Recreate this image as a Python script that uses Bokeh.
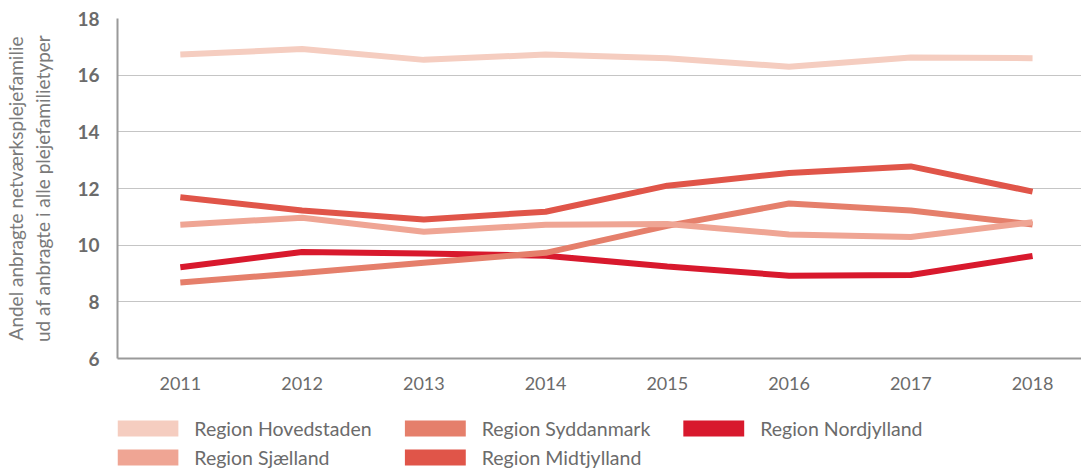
from bokeh.plotting import figure
from bokeh.layouts import column
from bokeh.models import Range1d, FixedTicker, ColumnDataSource
from bokeh.core.properties import value
from bokeh.embed import file_html
from bokeh.resources import INLINE

years = [2011, 2012, 2013, 2014, 2015, 2016, 2017, 2018]
year_labels = ["2011", "2012", "2013", "2014", "2015", "2016", "2017", "2018"]
y_ticks = [6, 8, 10, 12, 14, 16, 18]

hovedstaden = [16.73, 16.92, 16.54, 16.73, 16.60, 16.30, 16.62, 16.60]
sjaelland = [10.72, 10.97, 10.47, 10.72, 10.75, 10.38, 10.29, 10.81]
syddanmark = [8.68, 9.02, 9.38, 9.73, 10.68, 11.47, 11.22, 10.73]
midtjylland = [11.69, 11.22, 10.91, 11.18, 12.10, 12.55, 12.78, 11.89]
nordjylland = [9.22, 9.76, 9.71, 9.63, 9.25, 8.92, 8.95, 9.62]

names = ["Region Hovedstaden", "Region Sjælland", "Region Syddanmark",
         "Region Midtjylland", "Region Nordjylland"]
series = [hovedstaden, sjaelland, syddanmark, midtjylland, nordjylland]
colors = ["#F5CDC0", "#EFA594", "#E57F6B", "#E05549", "#D8192D"]

FONT = "Lato"
GREY = "#6b6b6b"
W = 1081
LEFT = 115

p = figure(width=W, height=402, output_backend="svg", toolbar_location=None,
           x_range=Range1d(2010.484, 2018.402), y_range=Range1d(6, 18),
           min_border_left=LEFT, min_border_right=0, min_border_top=18,
           min_border_bottom=44)
p.outline_line_color = None
p.background_fill_color = "white"
p.border_fill_color = "white"

for name, vals, col in reversed(list(zip(names, series, colors))):
    src = ColumnDataSource(dict(x=years, y=vals))
    p.line("x", "y", source=src, line_color=col, line_width=6)

# axes
p.xaxis.ticker = FixedTicker(ticks=years)
p.xaxis.major_label_overrides = {y: l for y, l in zip(years, year_labels)}
p.xaxis.major_tick_line_color = None
p.xaxis.minor_tick_line_color = None
p.xaxis.axis_line_color = "#9a9a9a"
p.xaxis.axis_line_width = 2
p.xaxis.major_label_text_font = FONT
p.xaxis.major_label_text_font_size = "18px"
p.xaxis.major_label_text_color = GREY
p.xaxis.major_label_standoff = 12

p.yaxis.ticker = FixedTicker(ticks=y_ticks)
p.yaxis.major_tick_line_color = None
p.yaxis.minor_tick_line_color = None
p.yaxis.axis_line_color = "#9a9a9a"
p.yaxis.axis_line_width = 2
p.yaxis.major_label_text_font = FONT
p.yaxis.major_label_text_font_style = "bold"
p.yaxis.major_label_text_font_size = "19px"
p.yaxis.major_label_text_color = GREY
p.yaxis.major_label_standoff = 12
p.yaxis.axis_label = "Andel anbragte netværksplejefamilie\nud af anbragte i alle plejefamilietyper"
p.yaxis.axis_label_text_font = FONT
p.yaxis.axis_label_text_font_style = "normal"
p.yaxis.axis_label_text_font_size = "19px"
p.yaxis.axis_label_text_color = "#7a7a7a"
p.yaxis.axis_label_standoff = 20

p.xgrid.grid_line_color = None
p.ygrid.ticker = FixedTicker(ticks=[8, 10, 12, 14, 16, 18])
p.ygrid.grid_line_color = "#8a8a8a"
p.ygrid.grid_line_dash = "1 1"
p.ygrid.grid_line_width = 1

# legend strip: frame aligned with the chart frame, coordinates in pixels
LH = 66
lg = figure(width=W, height=LH, output_backend="svg", toolbar_location=None,
            x_range=Range1d(0, W - LEFT), y_range=Range1d(LH, 0),
            min_border_left=LEFT, min_border_right=0, min_border_top=0,
            min_border_bottom=0, x_axis_type=None, y_axis_type=None)
lg.outline_line_color = None
lg.grid.grid_line_color = None
lg.background_fill_color = "white"
lg.border_fill_color = "white"

legend_order = ["Region Hovedstaden", "Region Syddanmark", "Region Nordjylland",
                "Region Sjælland", "Region Midtjylland"]
col_x = [0, 288, 567]
row_y = [26, 55]
sw_l, sw_r, sw_t, sw_b, tx, ty, tl, fc = [], [], [], [], [], [], [], []
for i, n in enumerate(legend_order):
    cx = col_x[i % 3]
    cy = row_y[i // 3]
    sw_l.append(cx)
    sw_r.append(cx + 61)
    sw_t.append(cy - 8)
    sw_b.append(cy + 8)
    fc.append(colors[names.index(n)])
    tx.append(cx + 77)
    ty.append(cy)
    tl.append(n)
lg.quad(left=sw_l, right=sw_r, top=sw_t, bottom=sw_b, fill_color=fc, line_color=None)
lg.text(x=tx, y=ty, text=tl, text_font=value(FONT), text_font_size="19.5px",
        text_color=GREY, text_baseline="middle", text_align="left")

layout = column(p, lg, spacing=0)
open("out.html", "w").write(file_html(layout, INLINE))
